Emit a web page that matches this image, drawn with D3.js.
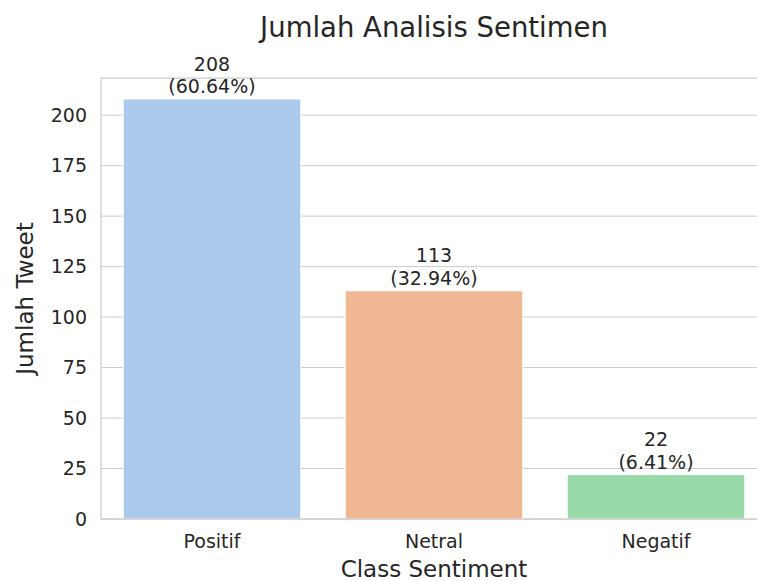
<!DOCTYPE html>
<html>
<head>
<meta charset="utf-8">
<script src="https://cdn.jsdelivr.net/npm/d3@7"></script>
<style>
  body { margin: 0; background: #fff; }
  text { font-family: "DejaVu Sans", sans-serif; fill: #262626; }
</style>
</head>
<body>
<script>
// data
var categories = ["Positif", "Netral", "Negatif"];
var counts = [208, 113, 22];
var percentLabels = ["60.64%", "32.94%", "6.41%"];
var yTicks = [0, 25, 50, 75, 100, 125, 150, 175, 200];
var barColors = ["#abc9ea", "#efb792", "#98daa7"];

var width = 757,
    height = 581;

var plot = { left: 101, right: 767, top: 78, bottom: 519 };

var svg = d3.select("body")
.append("svg")
  .attr("width", width)
  .attr("height", height);

var x = d3.scaleBand()
  .domain(categories)
  .range([plot.left, plot.right])
  .paddingInner(0.2)
  .paddingOuter(0.1);

var y = d3.scaleLinear()
  .domain([0, d3.max(counts) * 1.05])
  .range([plot.bottom, plot.top]);

// grid lines
svg.selectAll("line.grid")
  .data(yTicks)
  .enter()
  .append("line")
  .attr("class", "grid")
  .attr("x1", plot.left)
  .attr("x2", plot.right)
  .attr("y1", d => y(d))
  .attr("y2", d => y(d))
  .style("stroke", "#cccccc")
  .style("stroke-width", 1);

// bars
svg.selectAll("rect.bar")
  .data(counts)
  .enter()
  .append("rect")
  .attr("class", "bar")
  .attr("x", (d, i) => x(categories[i]))
  .attr("width", x.bandwidth())
  .attr("y", d => y(d))
  .attr("height", d => y(0) - y(d))
  .attr("fill", (d, i) => barColors[i])
  .style("stroke", "#fff")
  .style("stroke-width", 1);

// spines (top, left, bottom)
svg.append("path")
  .attr("d", "M" + plot.right + "," + plot.top + "H" + plot.left + "V" + plot.bottom + "H" + plot.right)
  .attr("fill", "none")
  .style("stroke", "#cccccc")
  .style("stroke-width", 1.25);

// y tick labels
svg.selectAll("text.ytick")
  .data(yTicks)
  .enter()
  .append("text")
  .attr("class", "ytick")
  .attr("x", plot.left - 14)
  .attr("y", d => y(d))
  .attr("dy", "0.36em")
  .attr("text-anchor", "end")
  .style("font-size", "19px")
  .text(d => d);

// x tick labels
svg.selectAll("text.xtick")
  .data(categories)
  .enter()
  .append("text")
  .attr("class", "xtick")
  .attr("x", d => x(d) + x.bandwidth() / 2)
  .attr("y", 547.5)
  .attr("text-anchor", "middle")
  .style("font-size", "19px")
  .text(d => d);

// value labels
var labels = svg.selectAll("text.value")
  .data(counts)
  .enter()
  .append("text")
  .attr("class", "value")
  .attr("text-anchor", "middle")
  .style("font-size", "19px");

labels.append("tspan")
  .attr("x", (d, i) => x(categories[i]) + x.bandwidth() / 2)
  .attr("y", d => y(d) - 28.5)
  .text(d => d);

labels.append("tspan")
  .attr("x", (d, i) => x(categories[i]) + x.bandwidth() / 2)
  .attr("y", d => y(d) - 6)
  .text((d, i) => "(" + percentLabels[i] + ")");

// title and axis labels
svg.append("text")
  .attr("x", (plot.left + plot.right) / 2)
  .attr("y", 37)
  .attr("text-anchor", "middle")
  .style("font-size", "27.5px")
  .text("Jumlah Analisis Sentimen");

svg.append("text")
  .attr("x", (plot.left + plot.right) / 2)
  .attr("y", 577)
  .attr("text-anchor", "middle")
  .style("font-size", "23px")
  .text("Class Sentiment");

svg.append("text")
  .attr("transform", "translate(32.5," + ((plot.top + plot.bottom) / 2) + ") rotate(-90)")
  .attr("text-anchor", "middle")
  .style("font-size", "23px")
  .text("Jumlah Tweet");
</script>
</body>
</html>
